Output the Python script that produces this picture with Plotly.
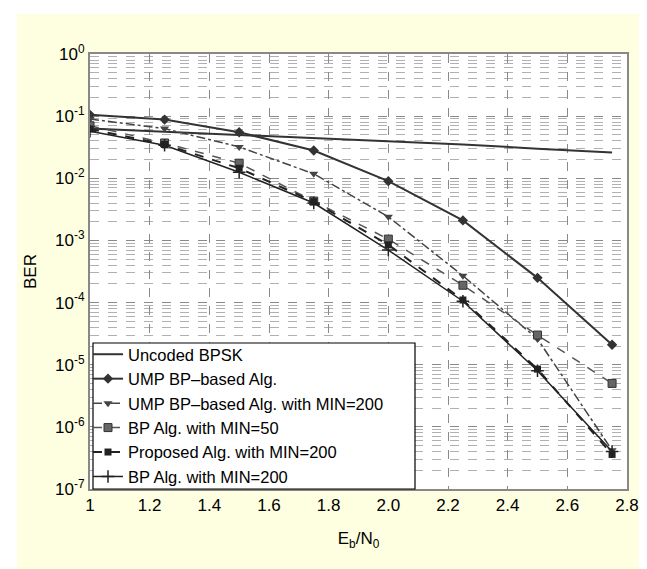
import plotly.graph_objects as go

# Data
ebn0 = [1.0, 1.25, 1.5, 1.75, 2.0, 2.25, 2.5, 2.75]
uncoded_bpsk = [0.063, 0.056, 0.050, 0.045, 0.040, 0.035, 0.030, 0.026]
ump_bp = [0.105, 0.088, 0.055, 0.028, 0.009, 0.0021, 2.5e-4, 2.1e-5]
ump_bp_min200 = [0.090, 0.063, 0.032, 0.0118, 0.0024, 2.7e-4, 2.6e-5, 4.2e-7]
bp_min50 = [0.070, 0.037, 0.0175, 0.0043, 0.00105, 1.9e-4, 3.0e-5, 5e-6]
proposed_min200 = [0.062, 0.035, 0.0145, 0.0042, 8.5e-4, 1.1e-4, 8.5e-6, 3.6e-7]
bp_min200 = [0.057, 0.034, 0.0125, 0.0040, 7.0e-4, 1.05e-4, 8.0e-6, 4.0e-7]

names = ["Uncoded BPSK", "UMP BP\u2013based Alg.", "UMP BP\u2013based Alg. with MIN=200",
         "BP Alg. with MIN=50", "Proposed Alg. with MIN=200", "BP Alg. with MIN=200"]

x_tickvals = [1, 1.2, 1.4, 1.6, 1.8, 2.0, 2.2, 2.4, 2.6, 2.8]
x_ticktext = ["1", "1.2", "1.4", "1.6", "1.8", "2.0", "2.2", "2.4", "2.6", "2.8"]
y_tickvals = [1e-7, 1e-6, 1e-5, 1e-4, 1e-3, 1e-2, 1e-1, 1]
y_ticktext = ["10<sup>-7</sup>", "10<sup>-6</sup>", "10<sup>-5</sup>", "10<sup>-4</sup>",
              "10<sup>-3</sup>", "10<sup>-2</sup>", "10<sup>-1</sup>", "10<sup>0</sup>"]

fig = go.Figure()

fig.add_trace(go.Scatter(x=ebn0, y=uncoded_bpsk, name=names[0], mode="lines",
                         line=dict(color="#333333", width=2)))
fig.add_trace(go.Scatter(x=ebn0, y=ump_bp, name=names[1], mode="lines+markers",
                         line=dict(color="#333333", width=2),
                         marker=dict(symbol="diamond", size=8, color="#333333")))
fig.add_trace(go.Scatter(x=ebn0, y=ump_bp_min200, name=names[2], mode="lines+markers",
                         line=dict(color="#444444", width=1.5, dash="dashdot"),
                         marker=dict(symbol="triangle-down", size=8, color="#444444")))
fig.add_trace(go.Scatter(x=ebn0, y=bp_min50, name=names[3], mode="lines+markers",
                         line=dict(color="#555555", width=1.5, dash="dash"),
                         marker=dict(symbol="square", size=8, color="#666666",
                                     line=dict(color="#333333", width=1))))
fig.add_trace(go.Scatter(x=ebn0, y=proposed_min200, name=names[4], mode="lines+markers",
                         line=dict(color="#222222", width=2, dash="dash"),
                         marker=dict(symbol="square", size=7, color="#222222")))
fig.add_trace(go.Scatter(x=ebn0, y=bp_min200, name=names[5], mode="lines+markers",
                         line=dict(color="#222222", width=1.5),
                         marker=dict(symbol="cross-thin", size=9, color="#222222",
                                     line=dict(color="#222222", width=1.5))))

W, H = 647, 569
ml, mr, mt, mb = 82, 28, 46, 88
pw, ph = W - ml - mr, H - mt - mb

def px_x(p):
    return (p - ml) / pw

def px_y(p):
    return (H - mb - p) / ph

shapes = [
    # white borders around the yellow panel
    dict(type="rect", xref="paper", yref="paper", x0=px_x(0), x1=px_x(9), y0=px_y(H), y1=px_y(0),
         fillcolor="white", line=dict(width=0), layer="below"),
    dict(type="rect", xref="paper", yref="paper", x0=px_x(0), x1=px_x(W), y0=px_y(6), y1=px_y(0),
         fillcolor="white", line=dict(width=0), layer="below"),
    dict(type="rect", xref="paper", yref="paper", x0=px_x(642), x1=px_x(W), y0=px_y(H), y1=px_y(0),
         fillcolor="white", line=dict(width=0), layer="below"),
    # legend box
    dict(type="rect", xref="paper", yref="paper", x0=px_x(85), x1=px_x(407), y0=px_y(481), y1=px_y(335),
         fillcolor="white", line=dict(color="black", width=1.2), layer="above"),
]

fig.update_layout(
    width=W, height=H,
    margin=dict(l=ml, r=mr, t=mt, b=mb),
    paper_bgcolor="#FEFEE0",
    plot_bgcolor="white",
    font=dict(family="Liberation Sans, Arial, sans-serif", size=17, color="black"),
    showlegend=True,
    legend=dict(x=px_x(80), y=px_y(329), xanchor="left", yanchor="top",
                bgcolor="rgba(0,0,0,0)", borderwidth=0,
                font=dict(size=16.5), tracegroupgap=0, itemwidth=30),
    shapes=shapes,
    xaxis=dict(range=[1, 2.8], tickvals=x_tickvals, ticktext=x_ticktext,
               showgrid=True, gridcolor="#8a8a8a", griddash="dash", gridwidth=1,
               showline=True, mirror=True, linecolor="#888888", linewidth=2,
               ticks="", zeroline=False,
               title=dict(text="E<sub>b</sub>/N<sub>0</sub>", standoff=18, font=dict(size=17))),
    yaxis=dict(type="log", range=[-7, 0], tickvals=y_tickvals, ticktext=y_ticktext,
               showgrid=True, gridcolor="#8a8a8a", griddash="dash", gridwidth=1,
               minor=dict(showgrid=True, gridcolor="#b0b0b0", griddash="dash", gridwidth=1,
                          dtick="D1", ticks=""),
               showline=True, mirror=True, linecolor="#888888", linewidth=2,
               ticks="", zeroline=False,
               title=dict(text="BER", standoff=14, font=dict(size=17))),
)

fig.write_html("out.html")
